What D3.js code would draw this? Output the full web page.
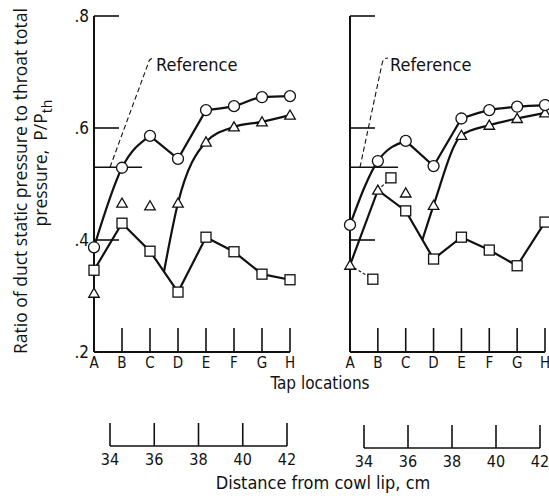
<!DOCTYPE html>
<html>
<head>
<meta charset="utf-8">
<script src="https://cdn.jsdelivr.net/npm/d3@7"></script>
<style>
  body { margin: 0; background: #fff; }
  text { font-family: "Liberation Sans Narrow", "DejaVu Sans Condensed", sans-serif; fill: #111; }
</style>
</head>
<body>
<script>
// tap locations along the duct
var taps = ["A", "B", "C", "D", "E", "F", "G", "H"];
var yTicks = [0.2, 0.4, 0.6, 0.8];
var distTicks = [34, 36, 38, 40, 42];
var refValue = 0.53;

// left panel
var circlesL   = [0.387, 0.529, 0.586, 0.545, 0.632, 0.639, 0.655, 0.657];
var trianglesL = [0.305, 0.466, 0.461, 0.466, 0.575, 0.602, 0.611, 0.623];
var squaresL   = [0.346, 0.430, 0.380, 0.307, 0.405, 0.379, 0.339, 0.329];
var triBranchL = 2.5;   // triangle curve leaves the square line between C and D

// right panel
var circlesR   = [0.427, 0.541, 0.577, 0.532, 0.617, 0.632, 0.638, 0.641];
var trianglesR = [0.355, 0.489, 0.484, 0.462, 0.587, 0.605, 0.617, 0.627];
var squaresR   = [0.355, 0.489, 0.452, 0.366, 0.405, 0.382, 0.354, 0.432];
var triBranchR = 2.6;
// squares at A and B sit under the triangles, so they are drawn off to the side
var squareFlagsR = [{of: 0, tap: 0.82, value: 0.330}, {of: 1, tap: 1.47, value: 0.511}];

var width = 549, height = 496;
var svg = d3.select("body").append("svg")
  .attr("width", width)
  .attr("height", height);

var y = d3.scaleLinear().domain([0.2, 0.8]).range([352, 16]);

function panel(opt) {
  var x = d3.scaleLinear().domain([0, taps.length - 1]).range(opt.xr);
  var g = svg.append("g");
  var x0 = opt.xr[0];

  // axes
  g.append("line").attr("x1", x0).attr("x2", x0).attr("y1", y(0.8)).attr("y2", y(0.2))
    .attr("stroke", "#111").attr("stroke-width", 2);
  g.append("line").attr("x1", x0).attr("x2", opt.xr[1]).attr("y1", y(0.2)).attr("y2", y(0.2))
    .attr("stroke", "#111").attr("stroke-width", 2);

  g.selectAll(".ytick").data(yTicks.slice(1)).enter().append("line")
    .attr("x1", x0).attr("x2", x0 + 25)
    .attr("y1", function(d) { return y(d); }).attr("y2", function(d) { return y(d); })
    .attr("stroke", "#111").attr("stroke-width", 1.6);

  if (opt.labels) {
    g.selectAll(".ylab").data(yTicks).enter().append("text")
      .attr("x", x0 - 5)
      .attr("y", function(d) { return y(d) + 6; })
      .attr("text-anchor", "end")
      .style("font-size", "17px")
      .text(function(d) { return d3.format(".1f")(d).replace("0.", "."); });
  }

  // reference level
  g.append("line").attr("x1", x0).attr("x2", x0 + 48)
    .attr("y1", y(refValue)).attr("y2", y(refValue))
    .attr("stroke", "#111").attr("stroke-width", 1.6);
  g.append("path")
    .attr("d", "M" + (x0 + opt.refFoot) + "," + y(refValue) + " L" + (x0 + opt.refHook) + "," + 64 +
      " Q" + (x0 + opt.refHook + 1) + ",58 " + (x0 + opt.refHook + 6) + ",58")
    .attr("fill", "none").attr("stroke", "#111").attr("stroke-width", 1.1)
    .attr("stroke-dasharray", "5,3");
  g.append("text").attr("x", x0 + opt.refHook + 8).attr("y", 71)
    .style("font-size", "18px").text("Reference");

  // tap ticks and letters
  g.selectAll(".xtick").data(taps.slice(1)).enter().append("line")
    .attr("x1", function(d, i) { return x(i + 1); }).attr("x2", function(d, i) { return x(i + 1); })
    .attr("y1", y(0.2)).attr("y2", y(0.2) - 24)
    .attr("stroke", "#111").attr("stroke-width", 1.6);
  g.selectAll(".xlab").data(taps).enter().append("text")
    .attr("x", function(d, i) { return x(i); })
    .attr("y", 368)
    .attr("text-anchor", "middle")
    .style("font-size", "15px")
    .text(function(d) { return d; });

  // curves
  function seg(vals, from, to, curve) {
    var pts = [];
    for (var i = from; i <= to; i++) pts.push([x(i), y(vals[i])]);
    return d3.line().curve(curve)(pts);
  }
  function branch(vals, sq, at) {
    var lo = Math.floor(at), f = at - lo;
    var pts = [[x(at), y(sq[lo] + (sq[lo + 1] - sq[lo]) * f)]];
    for (var i = lo + 1; i < vals.length; i++) pts.push([x(i), y(vals[i])]);
    return d3.line().curve(d3.curveMonotoneX)(pts);
  }
  var paths = [
    seg(opt.circles, 0, 2, d3.curveMonotoneX),
    seg(opt.circles, 2, 4, d3.curveLinear),
    seg(opt.circles, 4, 7, d3.curveMonotoneX),
    seg(opt.squares, 0, 7, d3.curveLinear),
    branch(opt.triangles, opt.squares, opt.branch)
  ];
  g.selectAll(".curve").data(paths).enter().append("path")
    .attr("d", function(d) { return d; })
    .attr("fill", "none").attr("stroke", "#111").attr("stroke-width", 2.2);

  // flagged squares with leaders
  var flags = opt.flags || [];
  g.selectAll(".leader").data(flags).enter().append("line")
    .attr("x1", function(d) { return x(d.of); }).attr("y1", function(d) { return y(opt.squares[d.of]); })
    .attr("x2", function(d) { return x(d.tap); }).attr("y2", function(d) { return y(d.value); })
    .attr("stroke", "#111").attr("stroke-width", 1.1).attr("stroke-dasharray", "3,2");

  // markers
  var sqPts = [];
  opt.squares.forEach(function(v, i) {
    if (!flags.some(function(f) { return f.of === i; })) sqPts.push([i, v]);
  });
  flags.forEach(function(f) { sqPts.push([f.tap, f.value]); });

  g.selectAll(".sq").data(sqPts).enter().append("rect")
    .attr("x", function(d) { return x(d[0]) - 5; }).attr("y", function(d) { return y(d[1]) - 5; })
    .attr("width", 10).attr("height", 10)
    .attr("fill", "#fff").attr("stroke", "#111").attr("stroke-width", 1.3);

  var tri = d3.symbol().type(d3.symbolTriangle).size(48);
  g.selectAll(".tri").data(opt.triangles).enter().append("path")
    .attr("d", tri)
    .attr("transform", function(d, i) { return "translate(" + x(i) + "," + (y(d) + 1) + ")"; })
    .attr("fill", "#fff").attr("stroke", "#111").attr("stroke-width", 1.3);

  g.selectAll(".circ").data(opt.circles).enter().append("circle")
    .attr("cx", function(d, i) { return x(i); }).attr("cy", function(d) { return y(d); })
    .attr("r", 5.5)
    .attr("fill", "#fff").attr("stroke", "#111").attr("stroke-width", 1.3);

  // distance scale
  var dx = d3.scaleLinear().domain([34, 42]).range(opt.dr);
  var by = opt.dy;
  g.append("line").attr("x1", dx(34)).attr("x2", dx(42)).attr("y1", by).attr("y2", by)
    .attr("stroke", "#111").attr("stroke-width", 1.6);
  g.selectAll(".dtick").data(distTicks).enter().append("line")
    .attr("x1", function(d) { return dx(d); }).attr("x2", function(d) { return dx(d); })
    .attr("y1", by).attr("y2", by - 23)
    .attr("stroke", "#111").attr("stroke-width", 1.6);
  g.selectAll(".dlab").data(distTicks).enter().append("text")
    .attr("x", function(d) { return dx(d); }).attr("y", by + 19)
    .attr("text-anchor", "middle")
    .style("font-size", "16px")
    .text(function(d) { return d; });
}

panel({xr: [94, 290], labels: true, refFoot: 16, refHook: 54,
  circles: circlesL, triangles: trianglesL, squares: squaresL, branch: triBranchL,
  dr: [110, 287], dy: 446});
panel({xr: [350, 545], labels: false, refFoot: 10, refHook: 32,
  circles: circlesR, triangles: trianglesR, squares: squaresR, branch: triBranchR,
  flags: squareFlagsR, dr: [364, 540], dy: 448});

// axis titles
svg.append("text").attr("x", 320).attr("y", 389).attr("text-anchor", "middle")
  .style("font-size", "17px").text("Tap locations");
svg.append("text").attr("x", 323).attr("y", 489).attr("text-anchor", "middle")
  .style("font-size", "18px").text("Distance from cowl lip, cm");

var yl = svg.append("g").attr("transform", "translate(27,181) rotate(-90)");
yl.append("text").attr("text-anchor", "middle")
  .style("font-family", "'Open Sans', sans-serif").style("font-size", "17.5px")
  .text("Ratio of duct static pressure to throat total");
var l2 = yl.append("text").attr("x", 18).attr("y", 20).attr("text-anchor", "middle")
  .attr("xml:space", "preserve")
  .style("font-family", "'Open Sans', sans-serif").style("font-size", "17.5px");
l2.append("tspan").text("pressure,  P/P");
l2.append("tspan").attr("dy", 5).style("font-size", "14px").text("th");
</script>
</body>
</html>
